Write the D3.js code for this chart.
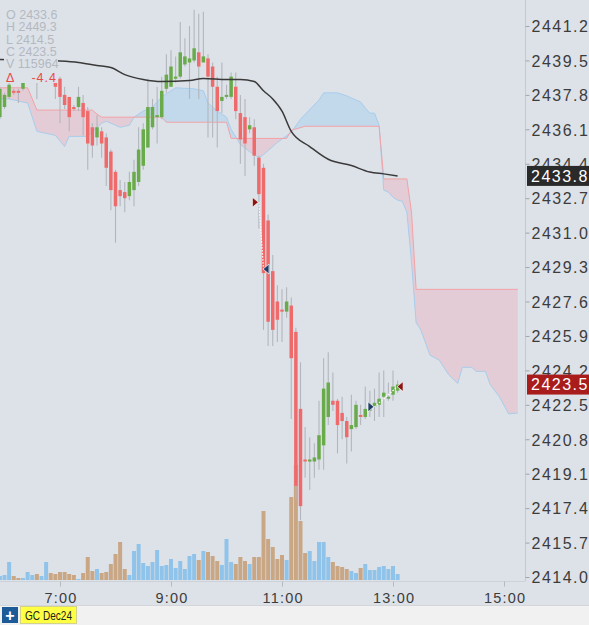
<!DOCTYPE html>
<html>
<head>
<meta charset="utf-8">
<script src="https://d3js.org/d3.v7.min.js"></script>
<style>
body { margin: 0; background: #dde2e9; overflow: hidden; }
svg { display: block; }
</style>
</head>
<body>
<svg id="chart" width="589" height="625"></svg>
<script>
// 5 minute bars, GC Dec24
var barTimes = ["05:55","06:00","06:05","06:10","06:15","06:20","06:25","06:30","06:35","06:40","06:45","06:50","06:55",
    "07:00","07:05","07:10","07:15","07:20","07:25","07:30","07:35","07:40","07:45","07:50","07:55",
    "08:00","08:05","08:10","08:15","08:20","08:25","08:30","08:35","08:40","08:45","08:50","08:55",
    "09:00","09:05","09:10","09:15","09:20","09:25","09:30","09:35","09:40","09:45","09:50","09:55",
    "10:00","10:05","10:10","10:15","10:20","10:25","10:30","10:35","10:40","10:45","10:50","10:55",
    "11:00","11:05","11:10","11:15","11:20","11:25","11:30","11:35","11:40","11:45","11:50","11:55",
    "12:00","12:05","12:10","12:15","12:20","12:25","12:30","12:35","12:40","12:45","12:50","12:55",
    "13:00","13:05"];
var opens = [2436.7,2437.2,2437.7,2438.0,2438.0,2438.1,2438.5,2438.6,2438.8,2438.7,2438.9,2439.1,2438.4,
    2438.6,2437.8,2437.7,2437.2,2437.2,2437.4,2437.0,2436.2,2435.7,2436.0,2435.7,2435.0,
    2434.0,2433.1,2433.0,2432.8,2433.1,2433.5,2434.3,2435.2,2436.2,2436.7,2436.7,2438.1,
    2438.2,2438.6,2438.7,2439.3,2439.4,2439.5,2439.9,2439.4,2439.6,2439.2,2438.2,2437.5,
    2437.7,2437.7,2438.2,2436.9,2436.7,2436.1,2436.2,2434.7,2434.2,2431.6,2429.1,2427.6,
    2427.2,2427.1,2427.4,2426.1,2422.3,2419.8,2419.7,2419.7,2419.8,2420.5,2421.9,2422.7,
    2422.7,2422.1,2421.7,2421.3,2421.4,2422.0,2421.9,2422.2,2422.4,2422.5,2422.9,2422.8,
    2423.0,2423.2];
var highs = [2438.2,2437.9,2438.4,2438.1,2438.1,2438.4,2438.8,2438.9,2438.9,2439.0,2439.2,2439.2,2438.5,
    2438.7,2438.2,2437.7,2437.3,2438.2,2437.8,2437.2,2436.4,2436.8,2436.2,2435.9,2435.1,
    2434.1,2433.6,2433.5,2434.0,2434.6,2436.2,2436.4,2438.6,2437.6,2438.2,2438.7,2439.8,
    2440.0,2439.7,2441.4,2440.6,2441.2,2442.0,2441.8,2441.9,2439.8,2439.4,2438.7,2439.4,
    2438.3,2438.9,2438.9,2437.8,2437.6,2436.7,2436.6,2434.8,2434.4,2431.9,2429.9,2428.4,
    2428.2,2428.3,2427.8,2426.3,2424.6,2421.4,2420.9,2420.6,2422.7,2424.8,2425.1,2424.1,
    2422.8,2422.9,2421.9,2423.0,2422.7,2422.5,2423.4,2423.2,2423.3,2424.1,2424.2,2423.6,
    2424.2,2423.7];
var lows = [2436.6,2437.1,2437.6,2437.8,2437.4,2438.0,2438.5,2438.5,2437.6,2438.5,2438.6,2438.5,2437.6,
    2436.4,2437.1,2436.0,2437.0,2437.0,2435.8,2434.1,2434.7,2435.3,2434.7,2433.3,2432.1,
    2430.5,2432.3,2432.0,2432.6,2432.3,2433.3,2434.1,2435.2,2436.1,2435.4,2436.6,2437.9,
    2438.2,2438.4,2438.6,2439.2,2437.6,2439.4,2437.6,2439.4,2435.7,2435.7,2435.2,2436.9,
    2437.6,2437.6,2436.6,2434.4,2433.8,2435.9,2434.3,2431.2,2426.2,2425.4,2425.4,2425.6,
    2425.6,2426.8,2421.8,2417.8,2416.8,2418.9,2418.3,2418.9,2419.3,2419.3,2421.5,2422.2,
    2420.1,2420.8,2419.6,2420.2,2421.3,2421.5,2421.8,2421.9,2421.7,2421.9,2421.9,2422.7,
    2422.7,2423.1];
var closes = [2438.1,2437.8,2438.3,2437.9,2437.9,2438.4,2438.7,2438.8,2438.7,2438.9,2439.1,2438.7,2438.2,
    2437.7,2437.3,2436.7,2437.1,2437.7,2436.7,2435.4,2435.3,2436.2,2435.4,2434.2,2433.1,
    2432.3,2432.8,2432.7,2433.5,2434.0,2435.1,2436.1,2437.2,2437.2,2436.8,2438.0,2438.8,
    2439.2,2438.7,2439.9,2439.7,2439.6,2440.1,2439.2,2439.7,2438.7,2438.2,2437.0,2437.7,
    2437.8,2438.7,2437.0,2435.6,2435.4,2436.3,2434.8,2432.9,2429.0,2426.6,2426.2,2426.7,
    2427.1,2427.6,2424.8,2418.5,2417.5,2419.7,2419.8,2419.9,2421.0,2423.3,2423.6,2422.5,
    2421.5,2421.7,2420.9,2421.5,2422.5,2421.9,2422.3,2422.5,2422.6,2422.8,2423.1,2422.9,
    2423.4,2423.5];
var volumes = [160,200,720,160,80,80,320,200,240,160,720,280,240,
    320,320,240,200,40,280,920,360,440,280,320,640,
    1040,1520,440,200,1160,1440,680,560,720,1200,560,600,
    840,480,760,440,960,1040,800,1160,1120,960,760,600,
    1640,720,640,920,760,640,920,920,2760,1640,1320,840,
    1000,800,3320,4600,2360,1080,1160,760,1520,1520,920,720,
    560,520,440,360,280,480,640,400,400,520,560,440,
    560,240];

// ichimoku cloud spans (shifted 26 bars ahead)
var spanATimes = ["05:55","06:05","06:25","06:35","06:55","07:05","07:10","07:30","07:45","07:50","08:05","08:15","08:20",
    "08:30","08:40","08:50","09:05","09:25","09:35","09:40","09:50","10:00","10:05","10:15","10:25","10:35","10:40",
    "10:55","11:10","11:20","11:40","11:45","12:00","12:10","12:20","12:25","12:30","12:35","12:40","12:45","12:50",
    "12:55","13:00","13:05","13:10","13:15","13:20","13:25","13:30","13:40","13:50","14:00","14:10","14:15","14:25",
    "14:30","14:40","14:45","14:55","15:05","15:15"];
var spanAValues = [2437.6,2437.6,2437.4,2436.0,2435.8,2435.25,2435.75,2435.75,2436.4,2436.5,2436.2,2436.3,2436.7,
    2437.0,2437.2,2437.7,2438.15,2438.1,2438.0,2437.4,2437.0,2436.7,2436.1,2435.35,2435.0,2434.7,2434.85,
    2435.45,2435.95,2436.6,2437.55,2437.9,2437.9,2437.75,2437.55,2437.45,2437.15,2436.9,2436.9,2436.3,2433.1,
    2433.0,2432.75,2432.6,2432.55,2432.0,2429.55,2426.55,2426.2,2424.95,2424.7,2424.0,2423.55,2424.35,2424.35,
    2424.15,2424.15,2423.5,2422.9,2422.05,2422.1];
var spanBTimes = ["05:55","06:25","06:35","07:35","07:40","07:45","08:50","08:55","10:00","10:05","11:05","11:10",
    "11:25","12:45","12:50","13:15","13:20","13:25","15:15"];
var spanBValues = [2438.15,2438.15,2437.05,2437.05,2436.85,2436.7,2436.7,2436.45,2436.45,2435.65,2435.65,2436.05,
    2436.25,2436.25,2433.65,2433.65,2432.0,2428.2,2428.2];

// moving average
var maTimes = ["05:55","07:00","07:20","07:40","07:55","08:10","08:30","08:50","09:20","09:35","10:00","10:15",
    "10:30","10:40","10:50","11:00","11:10","11:30","11:50","12:15","12:35","12:50","13:05"];
var maValues = [2439.55,2439.47,2439.4,2439.25,2439.15,2438.8,2438.56,2438.46,2438.51,2438.61,2438.56,2438.56,
    2438.46,2438.0,2437.6,2437.0,2436.0,2435.25,2434.62,2434.31,2433.99,2433.9,2433.8];

// trades
var tradeTimes = ["10:35","10:40","12:40","13:05"];
var tradePrices = [2432.5,2429.2,2422.4,2423.4];
var tradeSides = ["sell","buy","buy","sell"];
var tradeKinds = ["entry","exit","entry","exit"];

var priceTicks = [2414.0,2415.7,2417.4,2419.1,2420.8,2422.5,2424.2,2425.9,2427.6,2429.3,2431.0,2432.7,2434.4,2436.1,2437.8,2439.5,2441.2];
var timeTicks = ["07:00","09:00","11:00","13:00","15:00"];
var legendLines = ["O 2433.6","H 2449.3","L 2414.5","C 2423.5","V 115964"];
var changeText = "-4.4";
var lastPrice = 2423.5;
var symbolName = "GC Dec24";

var width = 589,
    height = 625,
    plotW = 525,
    plotH = 581,
    bg = "#dde2e9",
    upColor = "#69ab4b",
    downColor = "#ef6b6b",
    font = "'Liberation Sans', Arial, sans-serif";

var parseTime = d3.timeParse("%H:%M");
var svg = d3.select("#chart");

var x = d3.scaleTime().domain([parseTime("07:00"), parseTime("15:00")]).range([60, 504]);
var y = d3.scaleLinear().domain([2414.0, 2441.2]).range([577, 26]);
var yVol = d3.scaleLinear().domain([0, 6000]).range([580, 430]);

var bars = barTimes.map(function(t, i) {
    return {t: parseTime(t), o: opens[i], h: highs[i], l: lows[i], c: closes[i], v: volumes[i]};
});
function knots(times, values) {
    return times.map(function(t, i) { return {t: parseTime(t), v: values[i]}; });
}
var spanA = knots(spanATimes, spanAValues),
    spanB = knots(spanBTimes, spanBValues),
    ma = knots(maTimes, maValues);

svg.append("rect").attr("width", width).attr("height", height).attr("fill", bg);

var defs = svg.append("defs");
defs.append("clipPath").attr("id", "plotClip")
    .append("rect").attr("width", plotW).attr("height", plotH);

var areaUp = d3.area().x(function(d) { return x(d.t); }).y0(0).y1(function(d) { return y(d.v); });
var areaDown = d3.area().x(function(d) { return x(d.t); }).y0(function(d) { return y(d.v); }).y1(plotH);
var line = d3.line().x(function(d) { return x(d.t); }).y(function(d) { return y(d.v); });

defs.append("clipPath").attr("id", "aboveA").append("path").attr("d", areaUp(spanA));
defs.append("clipPath").attr("id", "aboveB").append("path").attr("d", areaUp(spanB));

var plot = svg.append("g").attr("clip-path", "url(#plotClip)");

// volume
plot.append("g").selectAll("rect").data(bars).enter().append("rect")
    .attr("x", function(d) { return x(d.t) - 2; })
    .attr("y", function(d) { return yVol(d.v); })
    .attr("width", 4)
    .attr("height", function(d) { return yVol(0) - yVol(d.v); })
    .attr("fill", function(d) { return d.c >= d.o ? "#8fc3ea" : "#c9a684"; });

// cloud
plot.append("path").attr("d", areaDown(spanA)).attr("clip-path", "url(#aboveB)")
    .attr("fill", "rgba(150,200,240,0.38)");
plot.append("path").attr("d", areaDown(spanB)).attr("clip-path", "url(#aboveA)")
    .attr("fill", "rgba(240,160,170,0.32)");
plot.append("path").attr("d", line(spanA)).attr("fill", "none").attr("stroke", "#a8cdec").attr("stroke-width", 1);
plot.append("path").attr("d", line(spanB)).attr("fill", "none").attr("stroke", "#f2a2a6").attr("stroke-width", 1);

// candles
var candle = plot.append("g").selectAll("g").data(bars).enter().append("g");
candle.append("line")
    .attr("x1", function(d) { return x(d.t); })
    .attr("x2", function(d) { return x(d.t); })
    .attr("y1", function(d) { return y(d.h); })
    .attr("y2", function(d) { return y(d.l); })
    .attr("stroke", "#b2b6bc")
    .attr("stroke-width", 1.1);
candle.append("rect")
    .attr("x", function(d) { return x(d.t) - 1.75; })
    .attr("y", function(d) { return y(Math.max(d.o, d.c)); })
    .attr("width", 3.5)
    .attr("height", function(d) { return Math.max(1.5, Math.abs(y(d.o) - y(d.c))); })
    .attr("fill", function(d) { return d.c >= d.o ? upColor : downColor; });

// moving average
plot.append("path").attr("d", line.curve(d3.curveMonotoneX)(ma))
    .attr("fill", "none").attr("stroke", "#3a3a3a").attr("stroke-width", 1.5);

// trades
var trades = tradeTimes.map(function(t, i) {
    return {t: parseTime(t), p: tradePrices[i], side: tradeSides[i], kind: tradeKinds[i]};
});
for (var k = 0; k < trades.length; k += 2) {
    plot.append("line")
        .attr("x1", x(trades[k].t)).attr("y1", y(trades[k].p))
        .attr("x2", x(trades[k + 1].t)).attr("y2", y(trades[k + 1].p))
        .attr("stroke", "#ffffff").attr("stroke-width", 1.2).attr("stroke-dasharray", "1.5,1.5");
}
plot.append("g").selectAll("path").data(trades).enter().append("path")
    .attr("d", function(d) {
        var cx = x(d.t) - 0.5, cy = y(d.p), s = d.kind == "entry" ? -1 : 1;
        return "M" + cx + "," + cy + "L" + (cx + s * 6) + "," + (cy - 5) + "L" + (cx + s * 6) + "," + (cy + 5) + "Z";
    })
    .attr("fill", function(d) { return d.side == "sell" ? "#8a1414" : "#1f3d66"; })
    .attr("stroke", "#ffffff").attr("stroke-width", 0.7);

// legend block
svg.append("rect").attr("x", 4).attr("y", 7).attr("width", 54).attr("height", 76).attr("fill", bg);
svg.append("g").selectAll("text").data(legendLines).enter().append("text")
    .attr("x", 6)
    .attr("y", function(d, i) { return 19 + i * 12.3; })
    .attr("font-family", font).attr("font-size", "12.5px").attr("fill", "#b4b9c1")
    .text(function(d) { return d; });
svg.append("text").attr("x", 6).attr("y", 82)
    .attr("font-family", font).attr("font-size", "12.5px").attr("fill", "#e84a4a").text("\u0394");
svg.append("text").attr("x", 57).attr("y", 82).attr("text-anchor", "end")
    .attr("font-family", font).attr("font-size", "12.5px").attr("fill", "#e84a4a")
    .style("letter-spacing", "1px").text(changeText);

// axes
svg.append("line").attr("x1", plotW + 0.5).attr("x2", plotW + 0.5).attr("y1", 0).attr("y2", plotH)
    .attr("stroke", "#c4c9d0");
svg.append("line").attr("x1", 0).attr("x2", plotW).attr("y1", plotH + 0.5).attr("y2", plotH + 0.5)
    .attr("stroke", "#cdd2d9");

var yAxis = d3.axisRight(y).tickValues(priceTicks).tickFormat(d3.format(".1f"))
    .tickSize(4).tickSizeOuter(0).tickPadding(2);
var yAxisG = svg.append("g").attr("transform", "translate(" + (plotW + 0.5) + ",0)").call(yAxis);
yAxisG.select(".domain").remove();
yAxisG.selectAll(".tick line").attr("stroke", "#a0a5ad");
yAxisG.selectAll(".tick text")
    .attr("font-family", font).attr("font-size", "16px").attr("fill", "#3c3c3c")
    .attr("dy", "0.36em").style("letter-spacing", "1.5px");

var xAxis = d3.axisBottom(x).tickValues(timeTicks.map(parseTime)).tickFormat(d3.timeFormat("%-H:%M"))
    .tickSize(5).tickSizeOuter(0).tickPadding(6);
var xAxisG = svg.append("g").attr("transform", "translate(0," + (plotH + 0.5) + ")").call(xAxis);
xAxisG.select(".domain").remove();
xAxisG.selectAll(".tick line").attr("stroke", "#b5bac1");
xAxisG.selectAll(".tick text")
    .attr("font-family", font).attr("font-size", "14.5px").attr("fill", "#3c3c3c")
    .attr("dx", "0.6px").style("letter-spacing", "1.2px");

// price tags
function priceTag(value, fill) {
    var cy = y(value);
    svg.append("rect").attr("x", 527).attr("y", cy - 10).attr("width", 62).attr("height", 20).attr("fill", fill);
    svg.append("text").attr("x", 531).attr("y", cy).attr("dy", "0.36em")
        .attr("font-family", font).attr("font-size", "16px").attr("fill", "#ffffff")
        .style("letter-spacing", "1.5px").text(d3.format(".1f")(value));
}
priceTag(maValues[maValues.length - 1], "#2a2a2a");
priceTag(lastPrice, "#a81c1c");

// bottom strip
svg.append("rect").attr("x", 0).attr("y", 605).attr("width", width).attr("height", 20).attr("fill", "#f1f1f1");
svg.append("line").attr("x1", 0).attr("x2", width).attr("y1", 605.5).attr("y2", 605.5).attr("stroke", "#d4d6da");
svg.append("rect").attr("x", 2).attr("y", 607).attr("width", 16).attr("height", 16).attr("fill", "#1d5b98");
svg.append("text").attr("x", 10).attr("y", 620.5).attr("text-anchor", "middle")
    .attr("font-family", font).attr("font-size", "16px").attr("font-weight", "bold").attr("fill", "#ffffff").text("+");
svg.append("rect").attr("x", 20.5).attr("y", 606.5).attr("width", 56).attr("height", 17)
    .attr("fill", "#ffff44").attr("stroke", "#d2d28c");
svg.append("text").attr("x", 25).attr("y", 619.5)
    .attr("font-family", font).attr("font-size", "12.5px").attr("fill", "#222222")
    .attr("textLength", 47).attr("lengthAdjust", "spacingAndGlyphs").text(symbolName);
</script>
</body>
</html>
